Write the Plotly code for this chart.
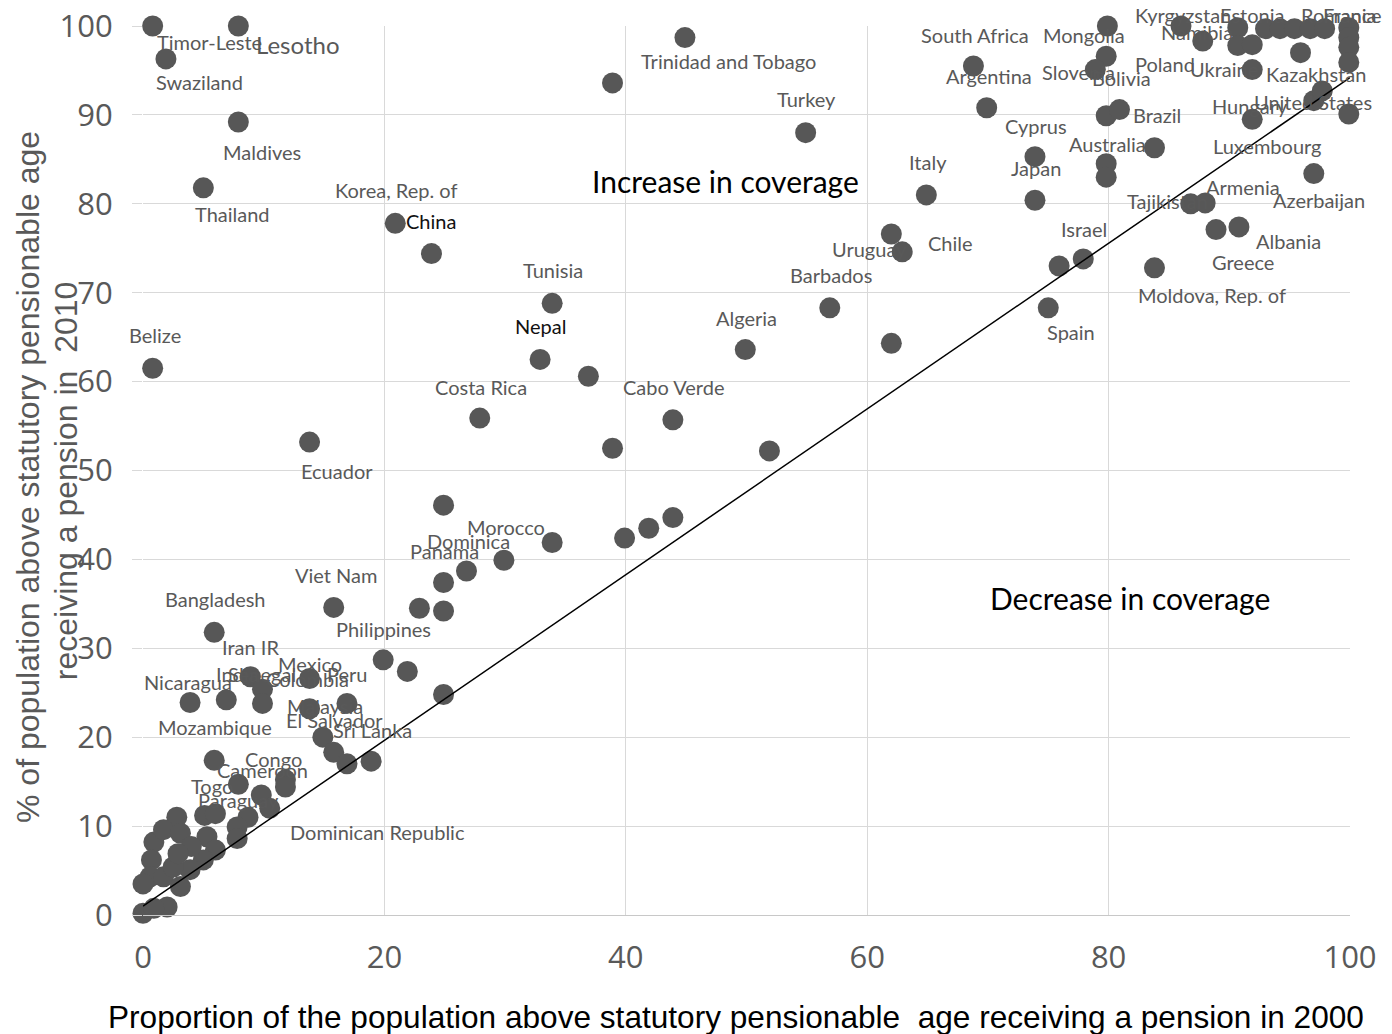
import plotly.graph_objects as go

# ---------------- data ----------------
# coverage in 2000 (x) and 2010 (y), % of population above pensionable age
cov_2000 = [
    0.8, 1.9, 7.9, 7.9, 5.0, 0.8, 20.9, 23.9, 13.8,
    44.9, 38.9, 54.9, 64.9, 62.0, 62.9, 56.9, 62.0, 49.9, 33.9, 32.9, 36.9,
    27.9, 43.9, 38.9, 51.9, 39.9, 41.9, 43.9, 24.9, 33.9, 29.9, 26.8, 24.9,
    22.9, 24.9, 15.8, 19.9, 21.9, 24.9,
    5.9, 3.9, 6.9, 8.9, 9.9, 9.9, 13.8, 16.9, 13.8, 14.9, 15.8, 16.9, 18.9,
    5.9, 7.9, 11.8, 11.8, 9.8,
    2.8, 5.1, 6.0, 10.5, 8.7, 7.8, 7.8, 0.9, 1.7, 3.1, 5.3, 6.0, 5.0, 3.9,
    0.7, 0.6, 0.0, 1.7, 2.5, 3.1, 2.0, 0.0, 0.9, 4.0, 2.9,
    68.8, 69.9, 79.9, 79.8, 78.9, 79.8, 80.9, 73.9, 73.9, 79.8, 79.8, 83.8,
    97.0, 86.8, 88.0, 88.9, 90.8, 75.9, 77.9, 83.8, 75.0,
    86.0, 87.8, 90.7, 90.7, 91.9, 91.9, 93.0, 94.2, 95.4, 96.7, 97.9, 95.9,
    99.9, 99.9, 99.9, 99.9, 97.0, 97.7, 99.9, 91.9,
]
cov_2010 = [
    100.0, 96.3, 100.0, 89.2, 81.8, 61.5, 77.8, 74.4, 53.2,
    98.7, 93.6, 88.0, 81.0, 76.6, 74.6, 68.3, 64.3, 63.6, 68.8, 62.5, 60.6,
    55.9, 55.7, 52.5, 52.2, 42.4, 43.5, 44.7, 46.1, 41.9, 39.9, 38.7, 37.4,
    34.5, 34.2, 34.6, 28.7, 27.4, 24.8,
    31.8, 23.9, 24.2, 26.8, 25.4, 23.8, 26.6, 23.8, 23.2, 20.0, 18.3, 17.0, 17.3,
    17.4, 14.7, 15.2, 14.4, 13.5,
    11.0, 11.2, 11.4, 12.0, 11.0, 9.9, 8.6, 8.2, 9.6, 9.2, 8.8, 7.3, 6.2, 5.1,
    6.2, 4.3, 3.5, 4.3, 5.4, 3.2, 0.9, 0.2, 0.75, 7.7, 6.9,
    95.5, 90.8, 100.0, 96.6, 95.1, 89.9, 90.6, 85.3, 80.4, 84.5, 83.0, 86.3,
    83.4, 80.0, 80.1, 77.1, 77.4, 73.0, 73.8, 72.8, 68.3,
    100.0, 98.3, 99.8, 97.8, 97.9, 95.1, 99.7, 99.7, 99.7, 99.7, 99.7, 97.0,
    99.8, 98.7, 97.6, 95.9, 91.6, 92.7, 90.1, 89.5,
]

# reference line (drawn in the chart)
ref_x = [0, 100]
ref_y = [1.0, 94.2]

# country labels
label_text = [
    "Timor-Leste", "Lesotho", "Swaziland", "Maldives", "Thailand", "Belize",
    "Korea, Rep. of", "China", "Tunisia", "Nepal", "Costa Rica", "Ecuador",
    "Trinidad and Tobago", "Turkey", "Italy", "Uruguay", "Chile", "Barbados",
    "Algeria", "Cabo Verde", "Morocco", "Dominica", "Panama", "Viet Nam",
    "Bangladesh", "Philippines", "Iran IR", "Mexico", "India", "Senegal",
    "Colombia", "Peru", "Nicaragua", "Malaysia", "El Salvador", "Sri Lanka",
    "Mozambique", "Congo", "Cameroon", "Togo", "Paraguay", "Dominican Republic",
    "South Africa", "Mongolia", "Argentina", "Slovenia", "Bolivia", "Poland",
    "Ukraine", "Namibia", "Kyrgyzstan", "Estonia", "Romania", "France",
    "Kazakhstan", "Hungary", "United States", "Brazil", "Cyprus", "Australia",
    "Japan", "Luxembourg", "Armenia", "Tajikistan", "Azerbaijan", "Israel",
    "Albania", "Greece", "Moldova, Rep. of", "Spain",
]
# label placement (text centres, in axis units)
label_x = [
    5.55, 12.8, 4.7, 9.9, 7.4, 1.0,
    21.0, 23.9, 34.0, 32.9, 28.0, 16.1,
    48.5, 55.0, 65.0, 60.2, 66.9, 57.0,
    50.0, 44.0, 30.1, 27.0, 25.0, 16.0,
    6.0, 19.9, 8.9, 13.8, 7.8, 9.9,
    13.6, 16.9, 3.7, 15.1, 15.9, 19.0,
    6.0, 10.8, 9.9, 5.7, 7.9, 19.4,
    68.9, 78.0, 70.1, 77.5, 81.1, 84.7,
    89.6, 87.3, 86.2, 91.9, 99.1, 100.2,
    97.2, 91.7, 96.9, 84.0, 74.0, 79.9,
    74.0, 93.2, 91.1, 84.9, 97.4, 78.0,
    94.9, 91.1, 88.6, 76.9,
]
label_y = [
    98.2, 97.9, 93.7, 85.8, 78.9, 65.2,
    81.5, 78.1, 72.5, 66.2, 59.4, 49.9,
    96.1, 91.8, 84.7, 74.9, 75.6, 72.0,
    67.2, 59.4, 43.6, 42.1, 41.0, 38.2,
    35.5, 32.2, 30.1, 28.2, 27.1, 27.1,
    26.6, 27.1, 26.2, 23.5, 21.9, 20.8,
    21.1, 17.6, 16.3, 14.5, 12.9, 9.3,
    99.0, 99.0, 94.4, 94.8, 94.2, 95.7,
    95.2, 99.3, 101.2, 101.2, 101.2, 101.2,
    94.6, 91.0, 91.5, 90.0, 88.8, 86.7,
    84.0, 86.5, 81.9, 80.3, 80.4, 77.2,
    75.8, 73.4, 69.7, 65.6,
]
dark_labels = {"China", "Nepal"}
big_labels = {"Lesotho"}

x_ticks = [0, 20, 40, 60, 80, 100]
y_ticks = [0, 10, 20, 30, 40, 50, 60, 70, 80, 90, 100]

x_title = "Proportion of the population above statutory pensionable  age receiving a pension in 2000"
y_title_1 = "% of population above statutory pensionable age"
y_title_2 = "receiving a pension in  2010"

# ---------------- figure ----------------
GREY = "#595959"
GRID = "#d9d9d9"
LABEL_FONT = "Lato"
TICK_FONT = "Open Sans"

X_RANGE = [0, 100]
Y_RANGE = [0, 100]
MARGIN = dict(l=135, r=42, t=18, b=119)
WIDTH, HEIGHT = 1384, 1026
PX_X = (WIDTH - MARGIN["l"] - MARGIN["r"]) / (X_RANGE[1] - X_RANGE[0])
PX_Y = (HEIGHT - MARGIN["t"] - MARGIN["b"]) / (Y_RANGE[1] - Y_RANGE[0])

fig = go.Figure()
fig.add_trace(go.Scatter(
    x=cov_2000, y=cov_2010, mode="markers",
    marker=dict(size=21, color="#575757", line=dict(width=0)),
    cliponaxis=False, hoverinfo="x+y", showlegend=False,
))
fig.add_trace(go.Scatter(
    x=ref_x, y=ref_y, mode="lines",
    line=dict(color="black", width=1.5),
    cliponaxis=False, showlegend=False, hoverinfo="skip",
))


def clamp(v, lo, hi):
    return min(max(v, lo), hi)


annotations = []
for t, lx, ly in zip(label_text, label_x, label_y):
    ax_ = clamp(lx, *X_RANGE)
    ay_ = clamp(ly, *Y_RANGE)
    annotations.append(dict(
        x=ax_, y=ay_, xref="x", yref="y", text=t, showarrow=False,
        xshift=(lx - ax_) * PX_X, yshift=(ly - ay_) * PX_Y,
        xanchor="center", yanchor="middle",
        font=dict(family=LABEL_FONT,
                  size=24 if t in big_labels else 20,
                  color="#111111" if t in dark_labels else GREY),
    ))

annotations += [
    dict(x=48.3, y=82.6, xref="x", yref="y", text="Increase in coverage",
         showarrow=False, font=dict(family=LABEL_FONT, size=30, color="black")),
    dict(x=81.8, y=35.7, xref="x", yref="y", text="Decrease in coverage",
         showarrow=False, font=dict(family=LABEL_FONT, size=30, color="black")),
    dict(x=0.4913, y=0, xref="paper", yref="paper", yshift=-102,
         text=x_title, showarrow=False, xanchor="center", yanchor="middle",
         font=dict(family="Liberation Sans", size=31.6, color="black")),
    dict(x=0, y=0.4927, xref="paper", yref="paper", xshift=-115,
         text=y_title_1, showarrow=False, textangle=-90,
         xanchor="center", yanchor="middle",
         font=dict(family="Liberation Sans", size=32, color=GREY)),
    dict(x=0, y=0.488, xref="paper", yref="paper", xshift=-77,
         text=y_title_2, showarrow=False, textangle=-90,
         xanchor="center", yanchor="middle",
         font=dict(family="Liberation Sans", size=32, color=GREY)),
]

# the page body adds an 8 px offset, compensated in the margins
fig.update_layout(
    width=WIDTH, height=HEIGHT,
    margin=dict(**MARGIN, pad=0, autoexpand=False),
    paper_bgcolor="white", plot_bgcolor="white",
    annotations=annotations,
    showlegend=False,
)
fig.update_xaxes(
    range=X_RANGE, tickvals=x_ticks, ticktext=[str(v) for v in x_ticks],
    showgrid=True, gridcolor=GRID, gridwidth=1, zeroline=False,
    showline=True, linecolor="#c8c8c8", linewidth=1, ticks="",
    tickfont=dict(family=TICK_FONT, size=31, color=GREY),
    ticklabelstandoff=15, automargin=False, ticklabeloverflow="allow",
)
fig.update_yaxes(
    range=Y_RANGE, tickvals=y_ticks, ticktext=[str(v) for v in y_ticks],
    showgrid=True, gridcolor=GRID, gridwidth=1, zeroline=False,
    showline=False, ticks="outside", ticklen=10, tickcolor=GRID,
    tickfont=dict(family=TICK_FONT, size=31, color=GREY),
    ticklabelstandoff=13, automargin=False, ticklabeloverflow="allow",
)

fig.write_html("out.html")
